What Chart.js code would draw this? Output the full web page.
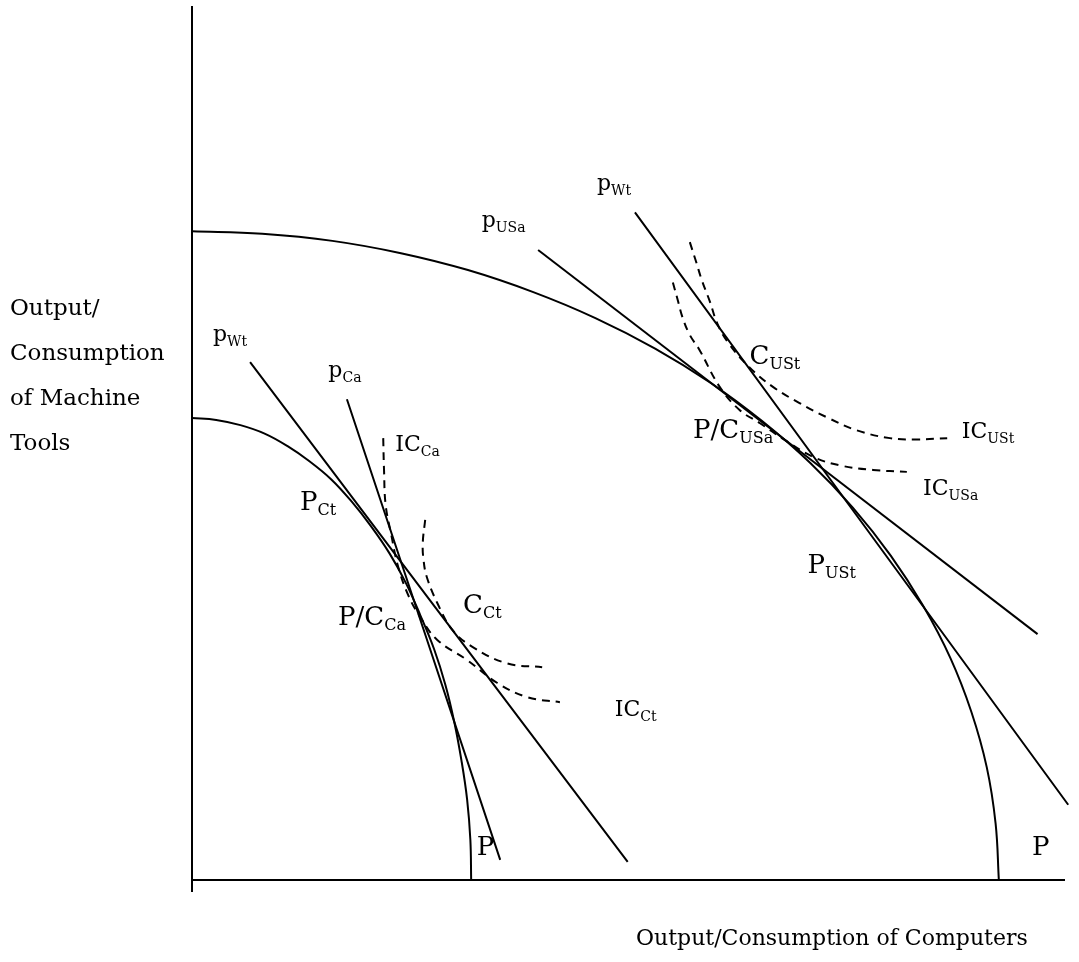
<!DOCTYPE html>
<html>
<head>
<meta charset="utf-8">
<script src="https://cdn.jsdelivr.net/npm/chart.js@4"></script>
<style>
  body { margin: 0; background: #fff; }
  #wrap { width: 1079px; height: 962px; }
</style>
</head>
<body>
<div id="wrap"><canvas id="ppfChart"></canvas></div>
<script>
// Production possibility frontiers (x = computers, y = machine tools)
const usPPF = [[0,100],[8.7,99.6],[17.4,98.5],[25.9,96.6],[34.2,94.0],[42.3,90.6],[50,86.6],[57.4,81.9],[64.3,76.6],[70.7,70.7],
  [76.6,64.3],[81.9,57.4],[86.6,50],[90.6,42.3],[94.0,34.2],[96.6,25.9],[98.5,17.4],[99.6,8.7],[100,0]];
const canadaPPF = [[0,71.2],[3.0,70.9],[6.0,70.1],[9.0,68.8],[11.8,66.9],[14.6,64.5],[17.3,61.7],[19.8,58.3],[22.2,54.5],[24.5,50.3],
  [26.5,45.8],[28.3,40.8],[30.0,35.6],[31.4,30.1],[32.5,24.4],[33.4,18.4],[34.1,12.4],[34.5,6.2],[34.6,0]];

// Relative price lines, start and end point
const pWorldCanada = [[7.2,79.8],[54.0,2.8]];
const pCanadaAutarky = [[19.2,74.1],[38.2,3.1]];
const pUSAutarky = [[42.9,97.1],[104.8,37.9]];
const pWorldUS = [[54.9,102.9],[108.6,11.6]];

// Indifference curves
const icCanadaAutarky = [[23.7,68.1],[23.8,63.2],[24.0,57.8],[24.7,53.2],[25.5,48.5],[26.8,43.9],[28.3,40.5],[30.4,37.0],[34.1,33.9],[37.8,30.4],[41.5,28.2],[45.6,27.4]];
const icCanadaTrade = [[28.9,55.5],[28.6,51.9],[28.7,49.3],[29.1,46.7],[30.4,42.7],[32.3,38.5],[34.8,35.9],[39.0,33.4],[43.4,32.8]];
const icUSTrade = [[61.7,98.3],[62.5,95.2],[63.2,92.4],[64.2,89.1],[65.1,85.8],[66.4,82.9],[69.1,79.0],[72.0,76.0],[75.3,73.5],[78.7,71.3],[82.4,69.3],[86.5,68.1],[89.8,67.9],[93.6,68.1]];
const icUSAutarky = [[59.6,92.1],[60.2,89.4],[60.8,86.7],[61.7,84.0],[62.9,81.7],[65.4,76.0],[67.9,72.4],[70.4,70.4],[73.5,67.8],[77.0,65.2],[80.3,63.9],[84.4,63.2],[88.6,62.9]];

// Axis ranges
const xMax = 108.2;
const yMax = 134.7;

// Curve labels: text, subscript, x, y
const bigLabels = [
  ['P', 'Ct', 13.4, 57.0],
  ['P/C', 'Ca', 18.1, 39.3],
  ['C', 'Ct', 33.6, 41.1],
  ['C', 'USt', 69.1, 79.5],
  ['P/C', 'USa', 62.1, 68.1],
  ['P', 'USt', 76.3, 47.3],
  ['P', '', 35.3, 3.9],
  ['P', '', 104.1, 3.9]
];
const smallLabels = [
  ['p', 'Wt', 2.6, 83.1],
  ['p', 'Ca', 16.9, 77.5],
  ['IC', 'Ca', 25.2, 66.1],
  ['IC', 'Ct', 52.4, 25.3],
  ['p', 'USa', 35.9, 100.6],
  ['p', 'Wt', 50.2, 106.3],
  ['IC', 'USt', 95.4, 68.1],
  ['IC', 'USa', 90.6, 59.3]
];

const yTitle = ['Output/', 'Consumption', 'of Machine', 'Tools'];
const xTitle = 'Output/Consumption of Computers';

const FONT = '"DejaVu Serif", serif';

function pts(arr) {
  return arr.map(p => ({ x: p[0], y: p[1] }));
}

function curve(arr, dashed) {
  return {
    data: pts(arr),
    showLine: true,
    borderColor: '#000',
    borderWidth: 2,
    borderDash: dashed ? [8, 6] : [],
    pointRadius: 0,
    tension: 0.4,
    fill: false
  };
}

function drawLabel(ctx, main, sub, px, py, size, subSize) {
  ctx.font = size + 'px ' + FONT;
  ctx.fillText(main, px, py);
  const w = ctx.measureText(main).width;
  if (sub) {
    ctx.font = subSize + 'px ' + FONT;
    ctx.fillText(sub, px + w, py + 5);
  }
}

const diagramPlugin = {
  id: 'diagram',
  beforeDraw(chart) {
    const ctx = chart.ctx;
    ctx.save();
    ctx.fillStyle = '#fff';
    ctx.fillRect(0, 0, chart.width, chart.height);
    ctx.restore();
  },
  afterDatasetsDraw(chart) {
    const { ctx, chartArea: a, scales: { x, y } } = chart;
    ctx.save();
    // axes
    ctx.strokeStyle = '#000';
    ctx.lineWidth = 2;
    ctx.beginPath();
    ctx.moveTo(a.left, a.top);
    ctx.lineTo(a.left, a.bottom + 12);
    ctx.moveTo(a.left, a.bottom);
    ctx.lineTo(a.right, a.bottom);
    ctx.stroke();

    ctx.fillStyle = '#000';
    ctx.textBaseline = 'alphabetic';
    bigLabels.forEach(l => drawLabel(ctx, l[0], l[1], x.getPixelForValue(l[2]), y.getPixelForValue(l[3]), 26, 16));
    smallLabels.forEach(l => drawLabel(ctx, l[0], l[1], x.getPixelForValue(l[2]), y.getPixelForValue(l[3]), 22, 14));

    // axis titles
    ctx.font = '23px ' + FONT;
    yTitle.forEach((t, i) => ctx.fillText(t, 10, 315 + i * 45));
    ctx.font = '22px ' + FONT;
    ctx.fillText(xTitle, 636, a.bottom + 65);
    ctx.restore();
  }
};

const ctx = document.getElementById('ppfChart').getContext('2d');
const ppfChart = new Chart(ctx, {
  type: 'scatter',
  data: {
    datasets: [
      curve(usPPF),
      curve(canadaPPF),
      curve(pWorldCanada),
      curve(pCanadaAutarky),
      curve(pUSAutarky),
      curve(pWorldUS),
      curve(icCanadaAutarky, true),
      curve(icCanadaTrade, true),
      curve(icUSTrade, true),
      curve(icUSAutarky, true)
    ]
  },
  options: {
    responsive: true,
    maintainAspectRatio: false,
    animation: false,
    clip: false,
    layout: { padding: { left: 192, right: 14, top: 6, bottom: 82 } },
    scales: {
      x: { type: 'linear', min: 0, max: xMax, display: false },
      y: { type: 'linear', min: 0, max: yMax, display: false }
    },
    plugins: {
      legend: { display: false },
      tooltip: { enabled: false }
    }
  },
  plugins: [diagramPlugin]
});
</script>
</body>
</html>
